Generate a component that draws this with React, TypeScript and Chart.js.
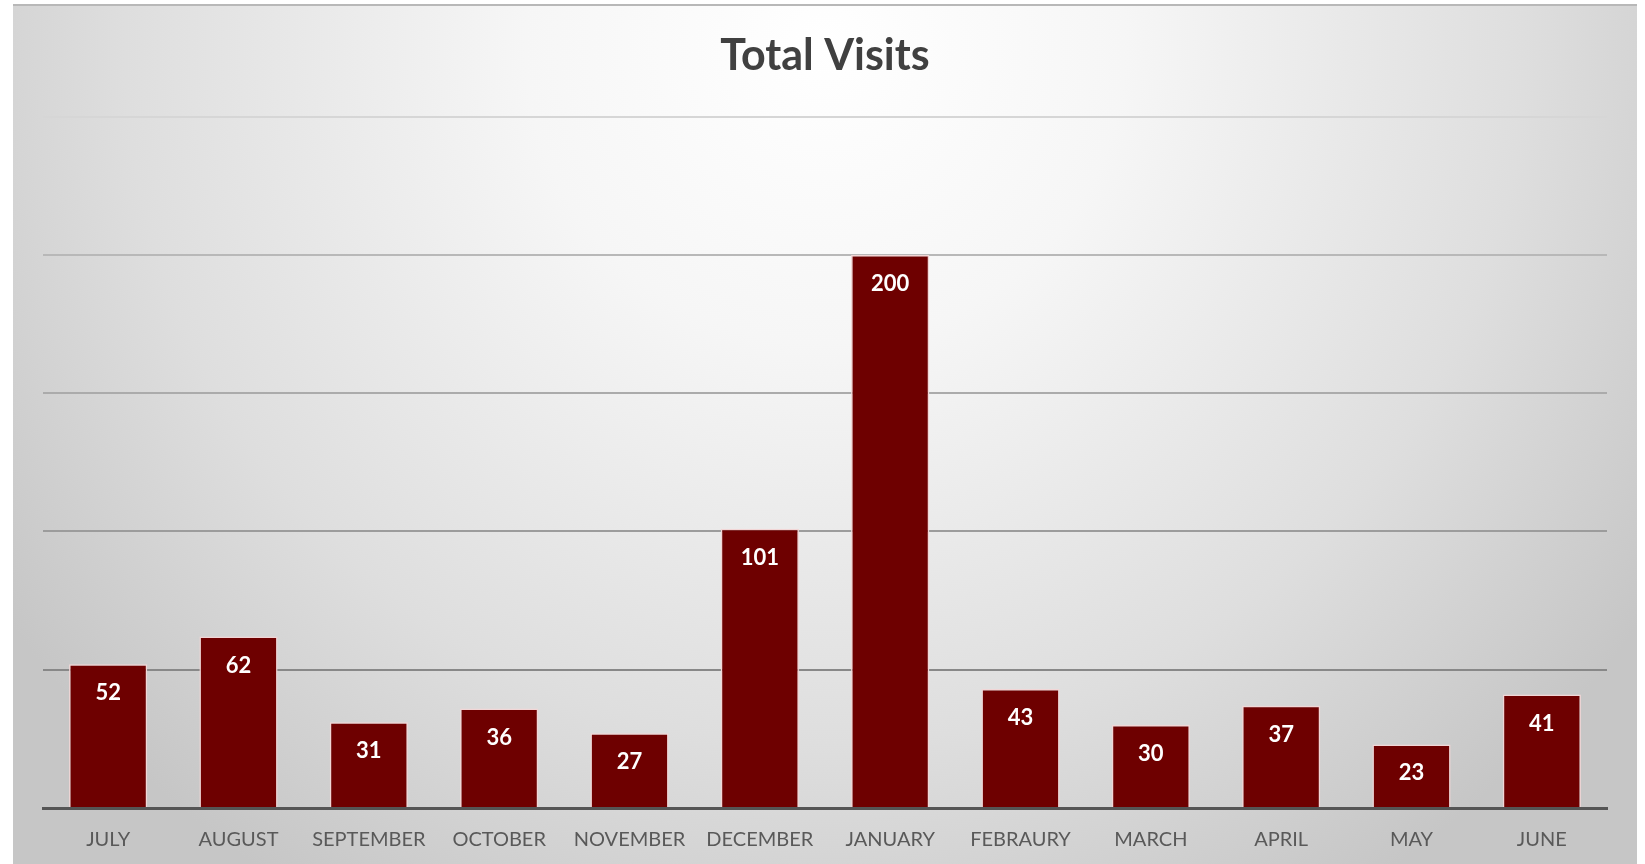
import React, { useEffect, useRef } from "react";
import { Chart, registerables } from "chart.js";

Chart.register(...registerables);

const categories = [
  "JULY", "AUGUST", "SEPTEMBER", "OCTOBER", "NOVEMBER", "DECEMBER",
  "JANUARY", "FEBRAURY", "MARCH", "APRIL", "MAY", "JUNE",
];
const visits = [52, 62, 31, 36, 27, 101, 200, 43, 30, 37, 23, 41];
const chartTitle = "Total Visits";
const yMax = 250;
const yStep = 50;

const gridColors: Record<number, string> = {
  250: "#d6d6d6",
  200: "#b8b8b8",
  150: "#ababab",
  100: "#9c9c9c",
  50: "#888888",
  0: "#555555",
};

const backgroundPlugin = {
  id: "panelBackground",
  beforeDraw(chart: any) {
    const { ctx, width, height } = chart;
    ctx.save();
    const g = ctx.createRadialGradient(width * 0.5, 40, 0, width * 0.5, 40, 1000);
    g.addColorStop(0, "#ffffff");
    g.addColorStop(0.3, "#f6f6f6");
    g.addColorStop(0.7, "#dedede");
    g.addColorStop(1, "#c6c6c6");
    ctx.fillStyle = g;
    ctx.fillRect(0, 0, width, height);
    ctx.fillStyle = "#b8b8b8";
    ctx.fillRect(0, 0, width, 2);
    ctx.restore();
  },
};

const valueLabelPlugin = {
  id: "valueLabels",
  afterDatasetsDraw(chart: any) {
    const { ctx } = chart;
    const meta = chart.getDatasetMeta(0);
    ctx.save();
    ctx.fillStyle = "#ffffff";
    ctx.font = "bold 22px Lato";
    ctx.textAlign = "center";
    ctx.textBaseline = "middle";
    meta.data.forEach((bar: any, i: number) => {
      ctx.fillText(String(chart.data.datasets[0].data[i]), bar.x, bar.y + 29);
    });
    ctx.restore();
  },
};

export default function App() {
  const canvasRef = useRef<HTMLCanvasElement>(null);

  useEffect(() => {
    document.body.style.margin = "0";
    if (!canvasRef.current) return;
    const chart = new Chart(canvasRef.current, {
      type: "bar",
      data: {
        labels: categories,
        datasets: [
          {
            data: visits,
            backgroundColor: "#6e0000",
            borderColor: "#f2d6d6",
            borderWidth: 1.5,
            categoryPercentage: 1,
            barPercentage: 0.6,
          },
        ],
      },
      options: {
        animation: false,
        responsive: false,
        maintainAspectRatio: false,
        layout: { padding: { left: 30, right: 30, top: 0, bottom: -8 } },
        plugins: {
          legend: { display: false },
          tooltip: { enabled: false },
          title: {
            display: true,
            text: chartTitle,
            color: "#404040",
            font: { family: "Lato", size: 43, weight: "bold", lineHeight: 1.2 },
            padding: { top: 26, bottom: 35 },
          },
        },
        scales: {
          x: {
            grid: { display: false, drawTicks: false },
            border: { display: true, color: "#555555", width: 3 },
            ticks: {
              color: "#595959",
              font: { family: "Lato", size: 20 },
              padding: 20,
              maxRotation: 0,
              autoSkip: false,
            },
          },
          y: {
            min: 0,
            max: yMax,
            ticks: { display: false, stepSize: yStep },
            border: { display: false },
            grid: {
              drawTicks: false,
              lineWidth: 2,
              color: (c: any) => gridColors[c.tick?.value] ?? "#aaaaaa",
            },
          },
        },
      },
      plugins: [backgroundPlugin, valueLabelPlugin],
    });
    return () => chart.destroy();
  }, []);

  return (
    <div style={{ position: "absolute", left: 13, top: 4, width: 1624, height: 860 }}>
      <canvas ref={canvasRef} width={1624} height={860} style={{ display: "block" }} />
    </div>
  );
}
